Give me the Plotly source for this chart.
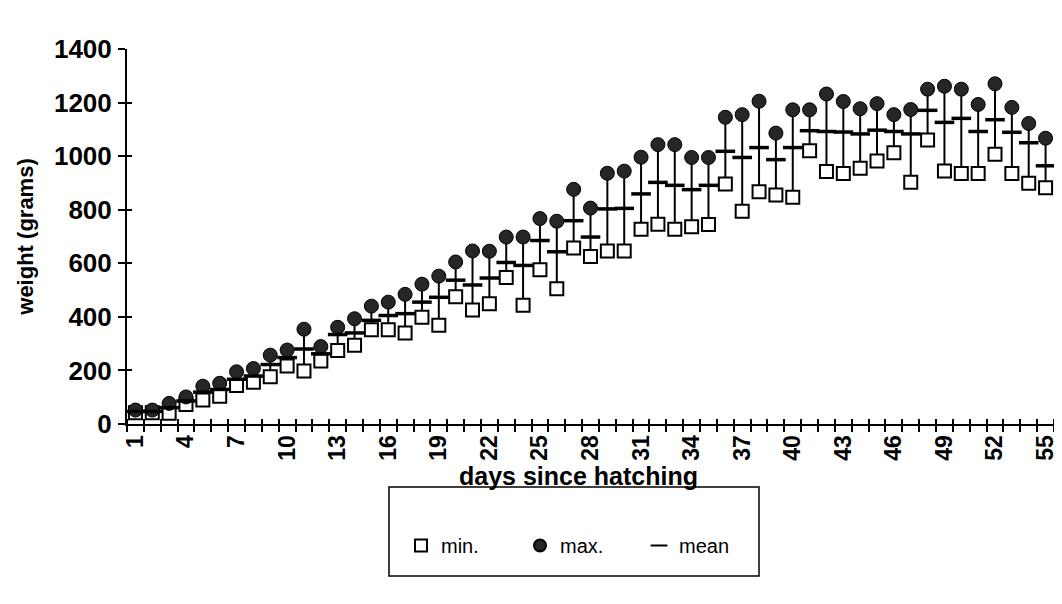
import plotly.graph_objects as go

days = list(range(1, 56))
min_w = [42, 42, 40, 73, 90, 104, 144, 156, 176, 217,
         198, 235, 274, 294, 352, 352, 340, 399, 369, 475,
         426, 449, 547, 443, 576, 505, 657, 625, 646, 646,
         727, 746, 727, 736, 745, 896, 794, 867, 855, 847,
         1020, 943, 935, 955, 982, 1013, 903, 1060, 945, 935,
         935, 1007, 935, 899, 882]
max_w = [52, 52, 77, 101, 141, 152, 195, 207, 257, 276,
         354, 289, 361, 393, 440, 455, 484, 522, 552, 605,
         646, 645, 698, 698, 767, 757, 876, 806, 936, 944,
         996, 1043, 1043, 995, 995, 1145, 1155, 1205, 1086, 1173,
         1173, 1232, 1204, 1177, 1196, 1155, 1174, 1250, 1261, 1250,
         1193, 1270, 1182, 1122, 1067]
mean_w = [47, 47, 61, 86, 119, 129, 167, 179, 222, 248,
          280, 262, 334, 340, 387, 405, 412, 455, 473, 537,
          519, 545, 603, 592, 685, 643, 759, 698, 803, 805,
          859, 902, 891, 875, 891, 1018, 995, 1032, 987, 1032,
          1095, 1092, 1090, 1083, 1097, 1092, 1083, 1171, 1126, 1141,
          1092, 1136, 1089, 1050, 964]
x_labels = list(range(1, 56, 3))

FONT = "Liberation Sans, Arial, sans-serif"
W, H = 1062, 604
L, R, T, B = 119, 16, 41, 188
PW, PH = W - L - R, H - T - B
X_RANGE = [0.5, 55.5]
Y_RANGE = [0, 1400]


def px_x(p):
    return (p - L) / PW


def px_y(p):
    return (H - B - p) / PH


fig = go.Figure()

# high-low lines
fig.add_trace(go.Scatter(
    x=days, y=mean_w, mode="markers",
    marker=dict(size=1, color="rgba(0,0,0,0)"),
    error_y=dict(type="data", symmetric=False,
                 array=[mx - m for mx, m in zip(max_w, mean_w)],
                 arrayminus=[m - mn for m, mn in zip(mean_w, min_w)],
                 width=0, thickness=2, color="black"),
    showlegend=False, hoverinfo="skip"))

fig.add_trace(go.Scatter(
    x=days, y=min_w, mode="markers", name="min.",
    marker=dict(symbol="square", size=13, color="white",
                line=dict(color="black", width=2))))

fig.add_trace(go.Scatter(
    x=days, y=max_w, mode="markers", name="max.",
    marker=dict(symbol="circle", size=14, color="#262626",
                line=dict(color="black", width=1))))

fig.add_trace(go.Scatter(
    x=days, y=mean_w, mode="markers", name="mean",
    marker=dict(symbol="line-ew", size=14,
                line=dict(color="black", width=3.5))))

# a dummy invisible trace so the companion axes are laid out
fig.add_trace(go.Scatter(x=[days[0]], y=[min_w[0]], xaxis="x2", yaxis="y2",
                         mode="markers", marker=dict(opacity=0),
                         showlegend=False, hoverinfo="skip"))

fig.update_layout(
    width=W, height=H,
    margin=dict(l=L, r=R, t=T, b=B),
    paper_bgcolor="white", plot_bgcolor="white",
    font=dict(family=FONT, color="black", size=20, weight="bold"),
    showlegend=True,
    legend=dict(orientation="h", x=px_x(393), xanchor="left",
                y=px_y(518), yanchor="top",
                borderwidth=0, bgcolor="rgba(0,0,0,0)",
                font=dict(size=20, weight="normal"),
                entrywidth=74, itemsizing="constant"),
    shapes=[dict(type="rect", xref="paper", yref="paper",
                 x0=px_x(381), x1=px_x(751), y0=px_y(568), y1=px_y(479),
                 line=dict(color="black", width=1.5), fillcolor="rgba(0,0,0,0)")],
    annotations=[dict(text="days since hatching", xref="paper", yref="paper",
                      x=px_x(570), y=px_y(468), xanchor="center", yanchor="middle",
                      showarrow=False,
                      font=dict(size=25, weight="bold", family=FONT))],
    xaxis=dict(range=X_RANGE, tickmode="array", tickvals=x_labels,
               ticktext=[str(v) for v in x_labels], tickangle=-90,
               ticks="", showgrid=False, zeroline=False,
               showline=True, linecolor="black", linewidth=2,
               tickfont=dict(size=23, weight="bold"),
               minor=dict(tickmode="linear", tick0=0.5, dtick=1,
                          ticks="outside", ticklen=6,
                          tickcolor="black", tickwidth=1.5,
                          showgrid=False)),
    yaxis=dict(range=Y_RANGE, tickmode="linear", tick0=0, dtick=200,
               ticks="outside", ticklen=7, tickwidth=1.5, tickcolor="black",
               ticklabelstandoff=1,
               showgrid=False, zeroline=False,
               showline=True, linecolor="black", linewidth=2,
               tickfont=dict(size=26, weight="bold"),
               title=dict(text="weight (grams)", standoff=14,
                          font=dict(size=22, weight="bold"))),
    # companion axes giving the crossing (inside) half of each tick mark
    xaxis2=dict(overlaying="x", range=X_RANGE, showticklabels=False,
                showline=False, showgrid=False, zeroline=False, ticks="",
                minor=dict(tickmode="linear", tick0=0.5, dtick=1, ticks="inside",
                           ticklen=5, tickcolor="black", tickwidth=1.5,
                           showgrid=False)),
    yaxis2=dict(overlaying="y", side="left", range=Y_RANGE,
                tickmode="linear", tick0=0, dtick=200,
                showticklabels=False, showline=False, showgrid=False,
                zeroline=False, ticks="inside", ticklen=5,
                tickcolor="black", tickwidth=1.5),
)

fig.write_html("out.html")
